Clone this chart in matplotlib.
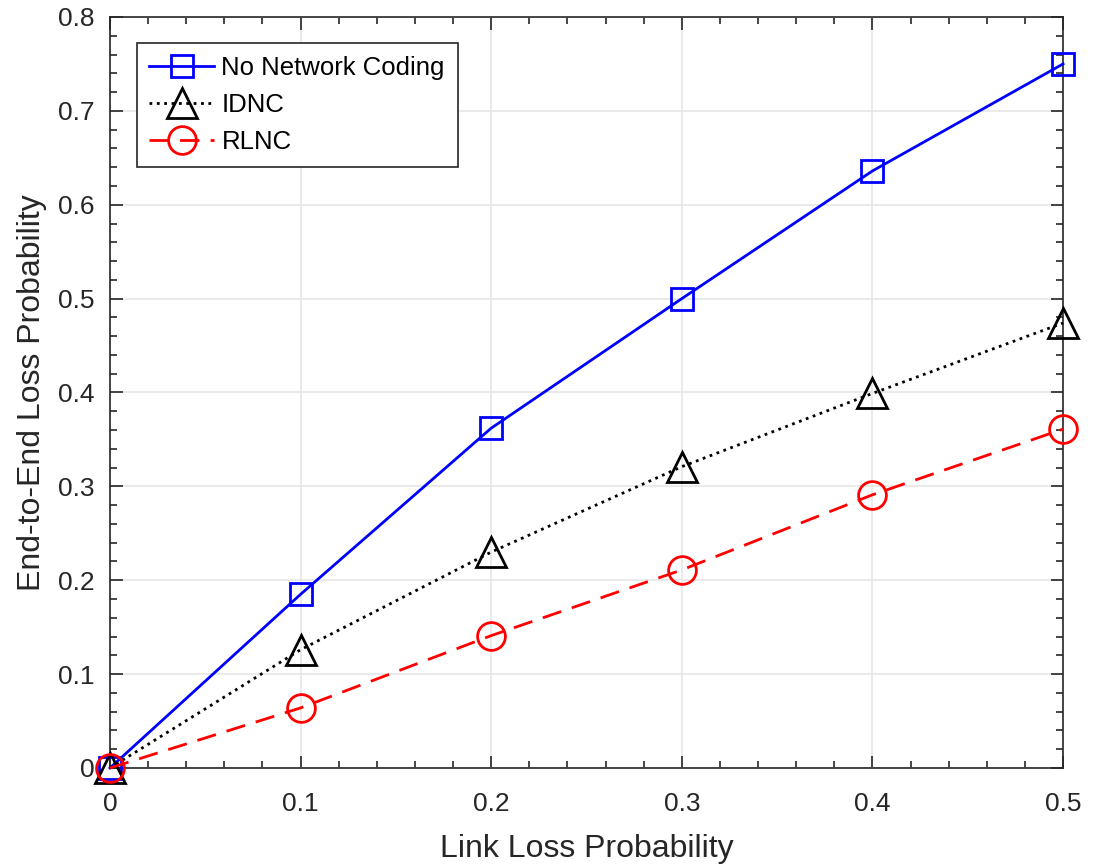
import matplotlib
matplotlib.use("Agg")
import matplotlib.pyplot as plt
from matplotlib.ticker import AutoMinorLocator

plt.rcParams["font.family"] = ["Liberation Sans", "DejaVu Sans"]

link_loss = [0.0, 0.1, 0.2, 0.3, 0.4, 0.5]
no_coding = [0.0, 0.185, 0.362, 0.500, 0.636, 0.750]
idnc = [0.0, 0.126, 0.230, 0.321, 0.399, 0.474]
rlnc = [0.0, 0.064, 0.141, 0.211, 0.291, 0.361]

x_ticks = [0, 0.1, 0.2, 0.3, 0.4, 0.5]
y_ticks = [0, 0.1, 0.2, 0.3, 0.4, 0.5, 0.6, 0.7, 0.8]

axis_color = "#262626"

fig = plt.figure(figsize=(10.93, 8.67), dpi=100)
ax = fig.add_axes([0.1006, 0.1142, 0.8720, 0.8662])

# MATLAB-like styling: open markers, markers not clipped at the box
ax.plot(link_loss, no_coding, color="blue", ls="-", lw=2, marker="s",
        ms=16, mfc="none", mew=2, label="No Network Coding", zorder=3,
        clip_on=False)
ax.plot(link_loss, idnc, color="black", ls=":", lw=2, marker="^",
        ms=22, mfc="none", mew=2, label="IDNC", zorder=3, clip_on=False)
ax.plot(link_loss, rlnc, color="red", ls=(0, (7, 4)), lw=2, marker="o",
        ms=20, mfc="none", mew=2, label="RLNC", zorder=3, clip_on=False)

ax.set_xlim(0, 0.5)
ax.set_ylim(0, 0.8)
ax.set_xticks(x_ticks)
ax.set_xticklabels([f"{t:g}" for t in x_ticks])
ax.set_yticks(y_ticks)
ax.set_yticklabels([f"{t:g}" for t in y_ticks])
ax.xaxis.set_minor_locator(AutoMinorLocator(5))
ax.yaxis.set_minor_locator(AutoMinorLocator(5))
ax.tick_params(which="both", direction="in", top=True, right=True,
               colors=axis_color, labelsize=19, width=1.2)
ax.tick_params(which="major", length=9)
ax.tick_params(which="minor", length=5)
ax.tick_params(axis="x", pad=17)
ax.tick_params(axis="y", pad=11)
for s in ax.spines.values():
    s.set_color(axis_color)
    s.set_linewidth(1.2)
ax.grid(True, which="major", color="#e6e6e6", lw=1.2, zorder=0)
ax.set_axisbelow(True)

ax.set_xlabel("Link Loss Probability", fontsize=23, color=axis_color,
              labelpad=13)
ax.set_ylabel("End-to-End Loss Probability", fontsize=23, color=axis_color,
              labelpad=8)

leg = ax.legend(loc="upper left", bbox_to_anchor=(0.028, 0.965),
                borderaxespad=0, fontsize=18.5, fancybox=False,
                framealpha=1, edgecolor=axis_color, handlelength=2.5,
                borderpad=0.5, labelspacing=0.5, handletextpad=0.3)
leg.get_frame().set_linewidth(1.2)

fig.savefig("out.png", dpi=100)
